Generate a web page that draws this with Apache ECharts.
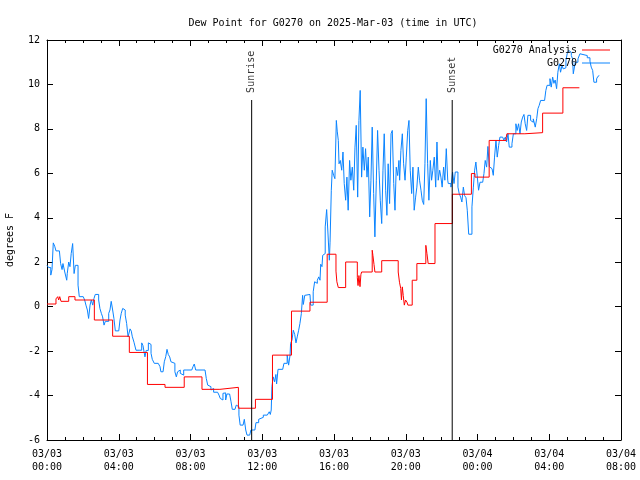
<!DOCTYPE html>
<html><head><meta charset="utf-8">
<script src="https://cdn.jsdelivr.net/npm/echarts@6/dist/echarts.min.js"></script>
<style>html,body{margin:0;padding:0;background:#fff}#c{width:640px;height:480px}</style>
</head><body><div id="c"></div>
<script>
// ---- data (hours since 03/03 00:00 UTC, dew point in degrees F) ----
const titleText = 'Dew Point for G0270 on 2025-Mar-03 (time in UTC)';
const xTickLabels = ['03/03\n00:00','03/03\n04:00','03/03\n08:00','03/03\n12:00','03/03\n16:00','03/03\n20:00','03/04\n00:00','03/04\n04:00','03/04\n08:00'];
const yTicks = [-6,-4,-2,0,2,4,6,8,10,12];

const analysisHours = [0.00,0.50,0.60,0.65,0.71,0.78,1.21,1.56,2.64,3.66,4.59,5.60,6.58,7.65,8.64,9.64,10.67,11.62,12.57,13.63,14.66,15.62,16.11,16.16,16.24,16.65,17.30,17.34,17.39,17.45,17.50,17.54,18.13,18.17,18.23,18.28,18.66,19.58,19.65,19.72,19.76,19.81,19.86,19.92,19.99,20.07,20.12,20.36,20.62,21.12,21.18,21.25,21.63,22.60,23.66,23.86,24.65,25.60,25.64,26.64,27.63,28.76,29.68];
const analysisValues = [0.12,0.35,0.45,0.30,0.45,0.24,0.45,0.30,-0.60,-1.33,-2.06,-3.50,-3.63,-3.16,-3.72,-3.63,-4.57,-4.17,-2.18,-0.20,0.20,2.36,1.60,1.12,0.86,2.01,1.30,0.95,1.40,0.90,1.45,1.56,2.54,2.30,1.90,1.56,2.07,1.56,1.10,0.82,0.30,0.89,0.50,0.07,0.30,0.20,0.07,1.19,1.94,2.76,2.40,1.94,3.74,5.06,5.99,5.83,7.48,7.60,7.78,7.83,8.71,9.85,9.85];

const obsHours = [0.00,0.09,0.21,0.28,0.35,0.43,0.50,0.69,0.76,0.84,0.89,0.99,1.10,1.13,1.21,1.28,1.35,1.43,1.51,1.58,1.66,1.73,1.80,2.02,2.10,2.17,2.25,2.32,2.40,2.47,2.55,2.62,2.69,2.80,2.88,2.95,3.03,3.10,3.18,3.25,3.36,3.44,3.51,3.58,3.66,3.73,3.81,4.00,4.07,4.14,4.22,4.29,4.36,4.44,4.52,4.63,4.70,4.75,
4.85,4.96,5.14,5.28,5.35,5.46,5.53,5.65,5.72,5.80,5.87,5.98,6.20,6.30,6.35,6.47,6.54,6.62,6.69,6.76,6.84,6.91,6.98,7.13,7.21,7.28,7.36,7.43,7.51,7.62,7.80,7.88,8.07,8.14,8.21,8.29,8.81,8.88,8.96,9.03,9.14,9.21,9.29,9.51,9.59,9.66,9.74,9.81,9.88,9.96,10.03,10.18,10.26,10.33,10.48,10.55,10.63,10.70,10.77,10.93,11.00,11.08,11.15,11.30,11.37,11.59,
11.65,11.80,11.91,12.06,12.28,12.39,12.45,12.50,12.54,12.61,12.69,12.76,12.80,12.88,13.14,13.21,13.32,13.39,13.47,13.55,13.58,13.66,13.73,13.81,13.88,13.95,14.03,14.10,14.18,14.25,14.29,14.37,14.44,14.66,14.70,14.79,14.84,14.92,14.99,15.07,15.15,15.22,15.26,15.33,15.37,15.44,15.51,15.59,15.66,15.74,15.78,15.85,15.90,15.98,16.05,16.13,16.18,16.24,16.28,16.35,16.43,16.50,16.57,16.65,16.72,16.79,16.87,16.94,17.02,17.10,17.17,17.24,17.32,17.39,17.46,17.54,17.61,17.69,17.76,17.84,17.91,17.99,18.06,18.13,18.21,18.28,18.36,18.43,18.51,18.58,18.66,18.73,18.80,18.88,18.95,19.02,19.10,19.18,19.25,19.33,19.40,19.47,19.55,19.62,19.66,19.73,19.81,19.88,19.96,20.03,20.11,20.18,20.25,20.33,20.40,20.47,20.55,20.62,20.70,20.77,20.85,20.92,21.00,21.07,21.14,21.22,21.29,21.37,21.44,21.51,21.59,21.67,21.74,21.81,21.89,21.96,22.03,22.11,22.18,22.26,22.34,22.37,22.52,
22.61,22.69,22.76,22.84,22.91,22.98,23.06,23.13,23.21,23.28,23.36,23.43,23.51,23.62,23.69,23.77,23.84,23.91,23.99,24.06,24.14,24.29,24.36,24.43,24.51,24.58,24.66,24.73,24.81,24.88,24.95,25.03,25.10,25.18,25.25,25.40,25.47,25.55,25.62,25.70,25.77,25.92,26.00,26.07,26.14,26.21,26.29,26.37,26.44,26.52,26.59,26.66,26.74,26.81,26.88,26.96,
27.03,27.11,27.22,27.30,27.37,27.44,27.52,27.74,27.81,27.88,27.96,28.04,28.11,28.19,28.26,28.33,28.41,28.48,28.56,28.63,28.71,28.78,28.86,28.93,29.00,29.08,29.15,29.23,29.30,29.34,29.41,29.45,29.52,29.60,29.71,29.82,30.12,30.27,30.34,30.42,30.49,30.64,30.71,30.79];
const obsValues = [1.86,1.76,1.42,1.67,2.87,2.72,2.51,2.51,1.94,1.67,1.94,1.56,1.19,1.50,2.01,1.80,2.39,2.84,1.49,1.86,1.86,0.97,0.45,0.37,0.30,0.07,-0.15,-0.53,0.07,0.30,0.07,0.37,0.55,0.55,0.30,-0.08,-0.30,-0.46,-0.83,-0.66,-0.66,-0.30,-0.15,0.24,-0.15,-0.53,-1.09,-1.09,-0.60,-0.30,-0.08,-0.15,-0.38,-0.76,-1.36,-1.00,-1.10,-1.33,
-1.60,-1.96,-1.96,-1.63,-1.75,-2.26,-1.97,-1.63,-1.70,-2.10,-2.37,-2.55,-2.55,-2.70,-2.93,-2.93,-2.48,-2.25,-1.92,-2.15,-2.26,-2.48,-2.55,-2.93,-3.16,-2.93,-2.85,-3.00,-3.08,-2.85,-2.78,-2.85,-2.85,-2.70,-2.58,-2.85,-2.85,-3.23,-3.53,-3.60,-3.75,-3.68,-3.85,-3.87,-3.98,-4.13,-4.20,-3.90,-3.88,-4.20,-3.93,-3.93,-4.28,-4.62,-4.62,-4.43,-4.50,-4.88,-5.33,-5.33,-5.07,-5.55,-5.78,-5.78,-5.55,-5.55,
-5.22,-5.07,-4.98,-4.88,-4.88,-4.73,-4.85,-4.65,-3.60,-3.16,-3.38,-3.05,-3.48,-2.82,-2.82,-2.55,-2.55,-2.18,-2.63,-2.18,-1.65,-1.50,-1.06,-1.25,-1.63,-1.36,-1.06,-0.76,-0.31,0.51,0.10,0.51,0.55,0.55,0.07,0.07,0.67,1.12,1.05,1.19,1.34,1.19,1.91,1.80,2.31,2.39,3.59,4.37,3.36,2.09,2.90,5.24,6.14,5.91,5.76,8.38,7.90,7.48,6.43,6.58,6.14,6.96,5.54,4.79,5.83,4.34,6.58,5.69,6.28,5.24,7.18,8.16,4.93,8.38,9.73,5.83,7.18,6.14,7.11,5.83,6.73,4.04,5.69,8.08,5.09,3.14,5.69,7.93,6.14,4.79,3.74,6.14,7.78,5.24,4.11,6.43,4.64,7.78,7.93,5.54,4.34,6.28,5.90,6.58,5.69,7.03,7.78,6.43,5.69,6.73,7.93,8.38,6.14,5.09,6.28,4.34,4.93,5.38,6.28,5.69,5.24,4.79,4.60,6.43,9.36,6.43,4.79,6.58,5.69,6.14,6.73,5.38,7.41,5.69,6.14,5.83,5.38,6.28,5.69,7.11,5.69,5.54,5.38,
6.06,5.54,6.06,6.06,5.38,5.09,4.93,4.71,5.38,5.00,4.90,4.34,3.26,3.26,4.49,5.38,6.14,6.51,5.83,5.24,5.60,5.69,5.99,6.58,6.28,7.21,6.30,6.21,6.15,5.91,6.73,7.48,6.73,7.26,7.63,7.63,7.50,7.63,7.41,7.78,7.18,7.33,7.78,7.78,8.23,7.93,8.23,7.78,8.31,8.53,8.65,8.23,7.93,8.61,8.61,8.38,
8.30,8.45,8.08,8.46,8.91,9.06,9.28,9.28,9.73,9.96,9.96,10.26,9.88,10.33,10.05,10.20,9.81,10.55,10.93,10.55,10.85,10.70,10.75,11.08,11.38,11.53,11.45,11.30,11.15,10.48,10.48,11.00,11.00,11.15,11.38,11.30,11.20,11.05,10.78,10.63,10.10,10.25,10.36,10.40];

const sunHours = [11.41, 22.59];
const sunNames = ['Sunrise', 'Sunset'];
const sunLineTop = 9.3;
const sunLabelAt = 9.62;

// ---- chart ----
const FONT = 'DejaVu Sans Mono';
const zip = (a, b) => a.map((v, i) => [v, b[i]]);
const chart = echarts.init(document.getElementById('c'), null, {renderer: 'canvas'});

const axisLine = {show: true, onZero: false, lineStyle: {color: '#000', width: 1}};

const series = [
  {name: 'G0270 Analysis', type: 'line', step: 'end', symbol: 'none', data: zip(analysisHours, analysisValues),
   lineStyle: {color: '#ff0000', width: 1}, itemStyle: {color: '#ff0000'}, z: 3},
  {name: 'G0270', type: 'line', step: 'end', symbol: 'none', data: zip(obsHours, obsValues),
   lineStyle: {color: '#0a84ff', width: 1}, itemStyle: {color: '#0a84ff'}, z: 2}
];
sunHours.forEach((h, i) => {
  series.push({name: sunNames[i] + ' line', type: 'line', symbol: 'none', silent: true,
    data: [[h, yTicks[0]], [h, sunLineTop]], lineStyle: {color: '#000', width: 1}, z: 4});
  series.push({name: sunNames[i] + ' label', type: 'scatter', symbolSize: 0, silent: true,
    data: [[h, sunLabelAt]],
    label: {show: true, formatter: sunNames[i], rotate: 90, position: [0, 0], align: 'left', verticalAlign: 'middle',
      color: '#000', fontFamily: FONT, fontSize: 10}});
});

chart.setOption({
  animation: false,
  backgroundColor: '#fff',
  title: {text: titleText, left: 328, top: 13, textAlign: 'center',
    textStyle: {fontFamily: FONT, fontSize: 10, fontWeight: 'normal', color: '#000'}},
  legend: {data: ['G0270 Analysis', 'G0270'], orient: 'vertical', right: 30, top: 44, align: 'right',
    icon: 'rect', itemWidth: 28, itemHeight: 1, itemGap: 1, padding: 0,
    textStyle: {fontFamily: FONT, fontSize: 10, color: '#000', lineHeight: 12}},
  grid: {left: 47, right: 19, top: 40, bottom: 40, containLabel: false, outerBoundsMode: 'none'},
  xAxis: [
    {type: 'value', min: 0, max: 32, interval: 4, position: 'bottom', axisLine: axisLine, splitLine: {show: false},
      axisTick: {show: true, inside: true, length: 6, lineStyle: {color: '#000'}},
      minorTick: {show: true, splitNumber: 4, length: 3, lineStyle: {color: '#000'}},
      axisLabel: {fontFamily: FONT, fontSize: 10, color: '#000', lineHeight: 13, margin: 8,
        formatter: v => xTickLabels[Math.round(v / 4)]}},
    {type: 'value', min: 0, max: 32, interval: 4, position: 'top', axisLine: axisLine, splitLine: {show: false},
      axisTick: {show: true, inside: true, length: 6, lineStyle: {color: '#000'}},
      minorTick: {show: true, splitNumber: 4, length: 3, lineStyle: {color: '#000'}},
      axisLabel: {show: false}}
  ],
  yAxis: [
    {type: 'value', min: yTicks[0], max: yTicks[yTicks.length - 1], interval: 2, position: 'left',
      axisLine: axisLine, splitLine: {show: false},
      name: 'degrees F', nameLocation: 'middle', nameGap: 32, nameRotate: 90,
      nameTextStyle: {fontFamily: FONT, fontSize: 10, color: '#000'},
      axisTick: {show: true, inside: true, length: 6, lineStyle: {color: '#000'}},
      axisLabel: {fontFamily: FONT, fontSize: 10, color: '#000', margin: 7}},
    {type: 'value', min: yTicks[0], max: yTicks[yTicks.length - 1], interval: 2, position: 'right',
      axisLine: axisLine, splitLine: {show: false},
      axisTick: {show: true, inside: true, length: 6, lineStyle: {color: '#000'}},
      axisLabel: {show: false}}
  ],
  series: series
});
</script></body></html>
